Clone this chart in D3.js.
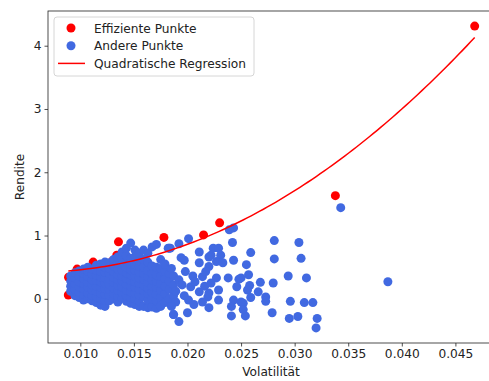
<!DOCTYPE html>
<html>
<head>
<meta charset="utf-8">
<script src="https://cdn.jsdelivr.net/npm/d3@7"></script>
<style>
  body { margin: 0; background: #fff; overflow: hidden; }
  svg { display: block; font-family: "DejaVu Sans", sans-serif; }
</style>
</head>
<body>
<svg id="chart" width="489" height="381"></svg>
<script>
// efficient points [volatility, return]
const efficient = [
  [0.00888, 0.06], [0.0089, 0.34], [0.0097, 0.47], [0.0112, 0.58],
  [0.0130, 0.60], [0.0134, 0.69], [0.01356, 0.90], [0.0178, 0.97],
  [0.0215, 1.01], [0.0230, 1.20], [0.0338, 1.63], [0.0468, 4.31]
];

// dense cluster, one column of returns per volatility value
const clusterVol = [0.0091, 0.0095, 0.0099, 0.0103, 0.0107, 0.0111, 0.0115, 0.0119, 0.0123,
  0.0127, 0.0131, 0.0135, 0.0139, 0.0143, 0.0147, 0.0151, 0.0155, 0.0159, 0.0163, 0.0167,
  0.0171, 0.0175, 0.0179, 0.0183, 0.0187];
const clusterRet = [
  [0.12, 0.20, 0.28, 0.36],
  [0.05, 0.15, 0.24, 0.33, 0.41],
  [0.02, 0.10, 0.19, 0.27, 0.36, 0.44],
  [-0.02, 0.07, 0.16, 0.24, 0.32, 0.40, 0.47],
  [0.00, 0.09, 0.18, 0.26, 0.35, 0.43, 0.50],
  [-0.03, 0.05, 0.14, 0.22, 0.30, 0.39, 0.47],
  [-0.06, 0.03, 0.12, 0.20, 0.29, 0.37, 0.45, 0.53],
  [-0.10, 0.00, 0.09, 0.18, 0.27, 0.35, 0.44, 0.55],
  [-0.12, -0.02, 0.07, 0.16, 0.25, 0.33, 0.42, 0.50, 0.58],
  [-0.03, 0.06, 0.15, 0.23, 0.31, 0.40, 0.48, 0.57],
  [0.00, 0.08, 0.17, 0.26, 0.34, 0.43, 0.52, 0.62],
  [-0.05, 0.04, 0.13, 0.21, 0.30, 0.38, 0.47, 0.56, 0.66],
  [0.01, 0.10, 0.19, 0.28, 0.36, 0.45, 0.54, 0.63, 0.74],
  [-0.04, 0.05, 0.14, 0.23, 0.32, 0.41, 0.50, 0.59, 0.68, 0.80],
  [-0.07, 0.02, 0.11, 0.20, 0.29, 0.38, 0.46, 0.55, 0.64, 0.88],
  [-0.09, 0.00, 0.09, 0.18, 0.27, 0.36, 0.45, 0.54, 0.66, 0.77],
  [-0.12, -0.03, 0.06, 0.15, 0.24, 0.33, 0.42, 0.51, 0.60, 0.72],
  [-0.12, 0.04, 0.13, 0.22, 0.31, 0.40, 0.50, 0.62, 0.77],
  [-0.14, -0.02, 0.08, 0.17, 0.26, 0.35, 0.45, 0.58, 0.72],
  [-0.13, 0.00, 0.10, 0.20, 0.30, 0.40, 0.52, 0.82],
  [-0.15, -0.03, 0.07, 0.18, 0.28, 0.38, 0.50, 0.86],
  [-0.12, 0.02, 0.14, 0.25, 0.36, 0.48, 0.62],
  [-0.06, 0.08, 0.20, 0.32, 0.44, 0.55],
  [0.00, 0.15, 0.28, 0.40, 0.80],
  [-0.25, 0.05, 0.22, 0.36]
];

// sparse points to the right of the cluster
const scattered = [
  [0.0192, 0.87], [0.0201, 0.95], [0.0211, 0.74], [0.0220, 0.66], [0.0184, 0.80], [0.0224, 0.80],
  [0.0197, 0.61], [0.0211, 0.57], [0.0198, 0.43], [0.0214, 0.35], [0.0192, 0.30], [0.0203, 0.19],
  [0.0211, 0.11], [0.0219, 0.03], [0.0201, -0.02], [0.0189, -0.05], [0.0187, -0.25], [0.0192, -0.36],
  [0.0206, -0.09], [0.0200, -0.22], [0.0194, 0.65], [0.0182, 0.80],
  [0.0185, 0.48], [0.0189, 0.12], [0.0195, 0.22], [0.0197, 0.05], [0.0205, 0.36], [0.0207, 0.27],
  [0.0185, -0.12], [0.0214, -0.05], [0.0216, 0.20],
  [0.0243, 1.12], [0.0239, 1.09], [0.0242, 0.89], [0.0229, 0.80], [0.0222, 0.69], [0.0231, 0.69],
  [0.0227, 0.59], [0.0243, 0.61], [0.0233, 0.57], [0.0220, 0.51], [0.0217, 0.43], [0.0227, 0.33],
  [0.0238, 0.33], [0.0248, 0.31], [0.0222, 0.25], [0.0229, 0.14], [0.0246, 0.19], [0.0220, 0.09],
  [0.0229, -0.02], [0.0243, -0.02], [0.0250, -0.05], [0.0220, -0.14], [0.0241, -0.12], [0.0241, -0.27],
  [0.0254, -0.27], [0.0259, 0.73], [0.0255, 0.54], [0.0257, 0.38], [0.0250, 0.33], [0.0258, 0.21],
  [0.0256, 0.14], [0.0259, 0.02], [0.0252, -0.07], [0.0252, -0.17], [0.0266, 0.11], [0.0268, 0.26],
  [0.0273, 0.03], [0.0273, -0.04], [0.0279, -0.22], [0.0280, 0.25], [0.0281, 0.63], [0.0281, 0.92],
  [0.0294, 0.36], [0.0296, -0.04], [0.0295, -0.31], [0.0303, -0.28], [0.0304, 0.89], [0.0306, 0.64],
  [0.0311, 0.33], [0.0309, -0.06], [0.0317, -0.06], [0.0321, -0.31], [0.0320, -0.46], [0.0387, 0.27],
  [0.0343, 1.44]
];

// quadratic regression: ret = a + b*vol + c*vol^2
const regCoef = [0.499, -26.22, 2218];

const xTicks = [0.010, 0.015, 0.020, 0.025, 0.030, 0.035, 0.040, 0.045];
const yTicks = [0, 1, 2, 3, 4];

const others = clusterVol.flatMap((v, i) => clusterRet[i].map(r => [v, r])).concat(scattered);

const svg = d3.select('#chart');
const margin = { top: 11, right: -6, bottom: 38, left: 48 };
const width = 489 - margin.left - margin.right;
const height = 381 - margin.top - margin.bottom;
const fontSize = 12.2;

const fit = v => regCoef[0] + regCoef[1] * v + regCoef[2] * v * v;

const all = efficient.concat(others);
const xExt = d3.extent(all, d => d[0]);
const yExt = d3.extent(all, d => d[1]);
const xPad = (xExt[1] - xExt[0]) * 0.05;
const yPad = (yExt[1] - yExt[0]) * 0.05;

const x = d3.scaleLinear()
  .domain([xExt[0] - xPad, xExt[1] + xPad])
  .range([margin.left, margin.left + width]);
const y = d3.scaleLinear()
  .domain([yExt[0] - yPad, yExt[1] + yPad])
  .range([margin.top + height, margin.top]);

svg.append('g')
  .attr('fill', 'red')
  .selectAll('circle')
  .data(efficient)
  .join('circle')
    .attr('cx', d => x(d[0]))
    .attr('cy', d => y(d[1]))
    .attr('r', 4.5);

svg.append('g')
  .attr('fill', 'royalblue')
  .selectAll('circle')
  .data(others)
  .join('circle')
    .attr('cx', d => x(d[0]))
    .attr('cy', d => y(d[1]))
    .attr('r', 4.5);

const fx = d3.extent(efficient, d => d[0]);
const curve = d3.range(0, 101).map(i => {
  const v = fx[0] + (fx[1] - fx[0]) * i / 100;
  return [v, fit(v)];
});
svg.append('path')
  .datum(curve)
  .attr('fill', 'none')
  .attr('stroke', 'red')
  .attr('stroke-width', 1.5)
  .attr('d', d3.line().x(d => x(d[0])).y(d => y(d[1])));

// axes frame
svg.append('rect')
  .attr('x', margin.left)
  .attr('y', margin.top)
  .attr('width', width)
  .attr('height', height)
  .attr('fill', 'none')
  .attr('stroke', '#222')
  .attr('stroke-width', 0.8);

const xAxis = g => g
  .attr('transform', `translate(0,${margin.top + height})`)
  .call(d3.axisBottom(x).tickValues(xTicks).tickFormat(d3.format('.3f')).tickSize(3.5).tickPadding(3))
  .call(g => g.select('.domain').remove());
const yAxis = g => g
  .attr('transform', `translate(${margin.left},0)`)
  .call(d3.axisLeft(y).tickValues(yTicks).tickFormat(d3.format('d')).tickSize(3.5).tickPadding(3))
  .call(g => g.select('.domain').remove());

svg.append('g').call(xAxis);
svg.append('g').call(yAxis);
svg.selectAll('.tick text').attr('font-size', fontSize).attr('fill', '#222').attr('font-family', '"DejaVu Sans", sans-serif');
svg.selectAll('.tick line').attr('stroke', '#222').attr('stroke-width', 0.8);

svg.append('text')
  .attr('x', margin.left + 223)
  .attr('y', 376)
  .attr('text-anchor', 'middle')
  .attr('font-size', fontSize)
  .attr('fill', '#222')
  .text('Volatilität');

svg.append('text')
  .attr('transform', `translate(24,${margin.top + height / 2}) rotate(-90)`)
  .attr('text-anchor', 'middle')
  .attr('font-size', fontSize)
  .attr('fill', '#222')
  .text('Rendite');

// legend
const legend = svg.append('g');
legend.append('rect')
  .attr('x', 54).attr('y', 17)
  .attr('width', 200).attr('height', 59)
  .attr('rx', 3)
  .attr('fill', 'white').attr('fill-opacity', 0.8)
  .attr('stroke', '#ccc').attr('stroke-width', 0.8);

const legendItems = [
  { label: 'Effiziente Punkte', color: 'red', type: 'dot' },
  { label: 'Andere Punkte', color: 'royalblue', type: 'dot' },
  { label: 'Quadratische Regression', color: 'red', type: 'line' }
];
legendItems.forEach((d, i) => {
  const cy = 28 + i * 17.7;
  if (d.type === 'dot') {
    legend.append('circle').attr('cx', 71).attr('cy', cy).attr('r', 4.5).attr('fill', d.color);
  } else {
    legend.append('line').attr('x1', 58).attr('x2', 85).attr('y1', cy).attr('y2', cy)
      .attr('stroke', d.color).attr('stroke-width', 1.5);
  }
  legend.append('text')
    .attr('x', 94).attr('y', cy + 4.5)
    .attr('font-size', fontSize)
    .attr('fill', '#222')
    .text(d.label);
});
</script>
</body>
</html>
